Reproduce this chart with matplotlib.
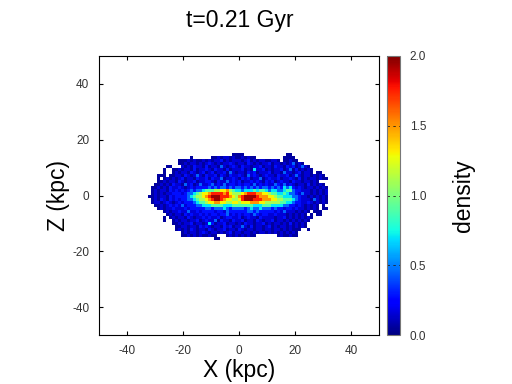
import numpy as np
import matplotlib
matplotlib.use('Agg')
import matplotlib.pyplot as plt

plt.rcParams['font.family'] = ['Liberation Sans', 'DejaVu Sans']
plt.rcParams['axes.unicode_minus'] = False

# density, top row first, one char per cell (see density_levels)
density_rows = [
    ".......... .......... ........00 00........ ......00.. .......... .",
    ".......... ....0..... .001011010 010100.... .....0000. .......... .",
    ".......... 0001010010 1011201011 1012010110 0110.00100 .......... .",
    ".......... 0010110101 2101011210 1102101011 2011010130 10........ .",
    "......00.. .101021102 0110310121 0211011201 1021102120 1310...... .",
    ".....0..00 1011020112 1021102011 1201041120 1011201302 01010..... .",
    ".....0..01 0110210120 1201120310 1102120111 2011031101 20110.00.. .",
    "...000.001 1021013102 1120210211 2103121012 1102112013 101101010. .",
    "...0.01010 1201102112 0211301121 0212011301 2112011210 2010110100 .",
    "...0010110 2101120112 2102113121 2011212102 1201211021 1011010... .",
    "..00101021 1031201311 2312131221 2122131212 1132131210 110201010. .",
    ".001010211 2101212222 3232332323 3232323233 2323243421 2101101010 .",
    ".010110212 1212323345 5566778654 4344454554 3443345532 2111010101 .",
    ".010101122 2123345677 8999989766 6789998877 6554454332 1311010101 .",
    "0010110212 2223456678 9XXX999876 89XXXX9888 7765544433 2110101010 .",
    ".010210212 1223345667 89XX987766 79XXX99988 8776655543 2111031010 .",
    ".011012101 2122234556 7788776677 6777888776 6666554432 2112101010 .",
    "..00101212 1312223344 4555544455 5555544455 5444433221 2101010.0. .",
    "...0101121 1121222223 3233343233 3323433433 3232212212 1101010.00 .",
    ".....01011 2113112122 2212213222 2223323222 2212131110 1010.000.. .",
    "......0101 1021211212 1221223121 2122132122 1121110101 010.0.00.. .",
    ".....0.010 1102101121 2112012211 2012110211 1101120101 01010..... .",
    ".....0..01 0110112012 1130211021 1201102101 1201101010 1010...... .",
    "........00 1011201101 4201120110 1021101120 1011010201 010....... .",
    ".........0 0110110212 1011021201 1310201101 2010110101 010....... .",
    ".........0 1010210110 2101120110 2101101101 1011010100 0..0...... .",
    ".......... .010110121 0110101201 1011010110 1010101010 .......... .",
    ".......... .001010100 100...0101 010100.... ...0100100 .......... .",
    ".......... .......... ..00...... .......... .......... .......... .",
]
density_levels = {'.': np.nan, '0': 0.06, '1': 0.15, '2': 0.28, '3': 0.45, '4': 0.7,
                  '5': 0.9, '6': 1.1, '7': 1.3, '8': 1.5, '9': 1.75, 'X': 1.95}
ticks_xy = [-40, -20, 0, 20, 40]
ticks_cb = [0.0, 0.5, 1.0, 1.5, 2.0]

grid = np.array([[density_levels[c] for c in r.replace(' ', '')] for r in density_rows])
cell = 3 / 2.8
x_edges = -32.5 + cell * np.arange(grid.shape[1] + 1)
z_edges = 15.2 - cell * np.arange(grid.shape[0] + 1)

fig = plt.figure(figsize=(5.12, 3.84), dpi=100)
ax = fig.add_axes([99 / 512, 49 / 384, 280 / 512, 279 / 384])
mesh = ax.pcolormesh(x_edges, z_edges, np.ma.masked_invalid(grid), cmap='jet', vmin=0, vmax=2)
ax.set_xlim(-50, 50)
ax.set_ylim(-50, 50)
ax.set_xticks(ticks_xy)
ax.set_yticks(ticks_xy)
ax.tick_params(direction='in', top=True, right=True, length=3, width=0.8, labelsize=8.5,
               labelcolor='#333333', pad=7)
ax.set_xlabel('X (kpc)', fontsize=16.5, labelpad=0)
ax.xaxis.set_label_coords(0.5, -0.085)
ax.set_ylabel('Z (kpc)', fontsize=16.5)
ax.yaxis.set_label_coords(-0.105, 0.5)
fig.text(240 / 512, 1 - 21 / 384, 't=0.21 Gyr', fontsize=16.5, ha='center', va='center')

cax = fig.add_axes([387 / 512, 49 / 384, 13 / 512, 279 / 384])
cb = fig.colorbar(mesh, cax=cax)
cb.set_ticks(ticks_cb)
cb.set_ticklabels(['%.1f' % t for t in ticks_cb])
cb.outline.set_edgecolor('#777777')
cb.outline.set_linewidth(0.8)
cax.tick_params(length=0, labelsize=8.5, labelcolor='#333333', pad=7)
for t in ticks_cb[1:-1]:
    cax.axhline(t, color='#222222', lw=0.6, ls=(0, (3, 4)))
fig.text(463 / 512, 1 - 196 / 384, 'density', fontsize=16.5, rotation=90, ha='center', va='center')

fig.savefig('out.png', dpi=100)
